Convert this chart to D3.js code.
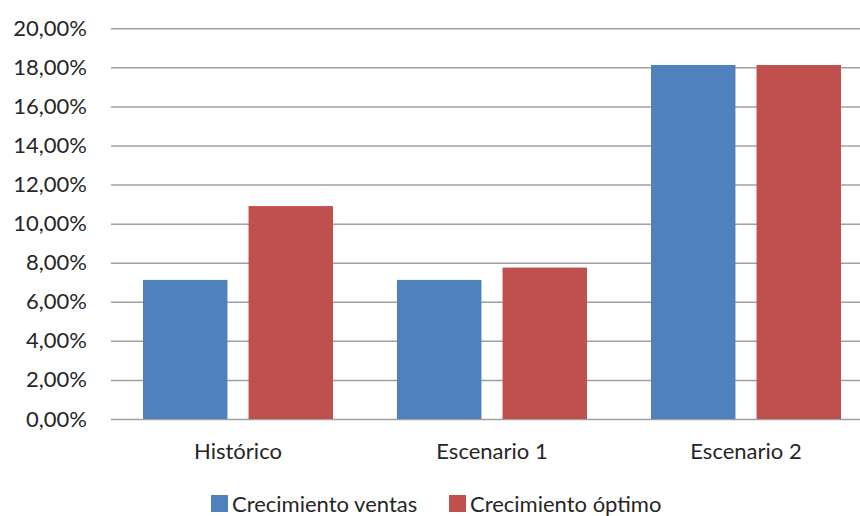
<!DOCTYPE html>
<html>
<head>
<meta charset="utf-8">
<script src="https://cdn.jsdelivr.net/npm/d3@7"></script>
<style>
  html, body { margin: 0; padding: 0; background: #fff; }
  svg text { font-family: Lato, "Open Sans", sans-serif; fill: #262626; }
</style>
</head>
<body>
<svg id="chart" width="860" height="516"></svg>
<script>
// Categories and series
const categories = ["Histórico", "Escenario 1", "Escenario 2"];
const seriesNames = ["Crecimiento ventas", "Crecimiento óptimo"];
const ventas = [0.0712, 0.0712, 0.1812];
const optimo = [0.1090, 0.0775, 0.1812];
const yTicks = [0, 0.02, 0.04, 0.06, 0.08, 0.10, 0.12, 0.14, 0.16, 0.18, 0.20];
const colors = ["#4F81BD", "#C0504D"];

const svg = d3.select("#chart");
const plot = { left: 111, right: 873, top: 28.3, bottom: 419 };

const x0 = d3.scaleBand().domain(categories)
  .range([plot.left, plot.right]).paddingInner(0.252).paddingOuter(0.126);
const x1 = d3.scaleBand().domain(seriesNames)
  .range([0, x0.bandwidth()]).paddingInner(0.2);
const y = d3.scaleLinear().domain([0, 0.20]).range([plot.bottom, plot.top]);

const fmt = v => d3.format(".2f")(v * 100).replace(".", ",") + "%";

// Horizontal gridlines + y labels
const yAxis = d3.axisLeft(y).tickValues(yTicks).tickFormat(fmt)
  .tickSize(-(plot.right - plot.left)).tickPadding(24);
const gy = svg.append("g").attr("transform", `translate(${plot.left},0)`).call(yAxis);
gy.select(".domain").remove();
gy.selectAll(".tick line").attr("stroke", "#a0a0a0").attr("stroke-width", 1.5);
gy.selectAll(".tick text").attr("font-size", 22).attr("fill", "#262626");

// Bars
const rows = categories.map((c, i) => ({ cat: c, vals: [ventas[i], optimo[i]] }));
const groups = svg.append("g").selectAll("g").data(rows).join("g")
  .attr("transform", d => `translate(${x0(d.cat)},0)`);
groups.selectAll("rect").data(d => d.vals.map((v, j) => ({ s: seriesNames[j], v, j })))
  .join("rect")
  .attr("x", d => x1(d.s))
  .attr("width", x1.bandwidth())
  .attr("y", d => y(d.v))
  .attr("height", d => y(0) - y(d.v))
  .attr("fill", d => colors[d.j]);

// Category labels
const xAxis = d3.axisBottom(x0).tickSize(0).tickPadding(24);
const gx = svg.append("g").attr("transform", `translate(0,${plot.bottom})`).call(xAxis);
gx.select(".domain").remove();
gx.selectAll(".tick text").attr("font-size", 22).attr("fill", "#262626");

// Legend
const legendItems = [{ name: seriesNames[0], x: 211 }, { name: seriesNames[1], x: 449 }];
const lg = svg.append("g").selectAll("g").data(legendItems).join("g")
  .attr("transform", d => `translate(${d.x},495)`);
lg.append("rect").attr("width", 17).attr("height", 17)
  .attr("fill", (d, i) => colors[i]);
lg.append("text").attr("x", 21).attr("y", 16.5).attr("font-size", 22)
  .text(d => d.name);
</script>
</body>
</html>
